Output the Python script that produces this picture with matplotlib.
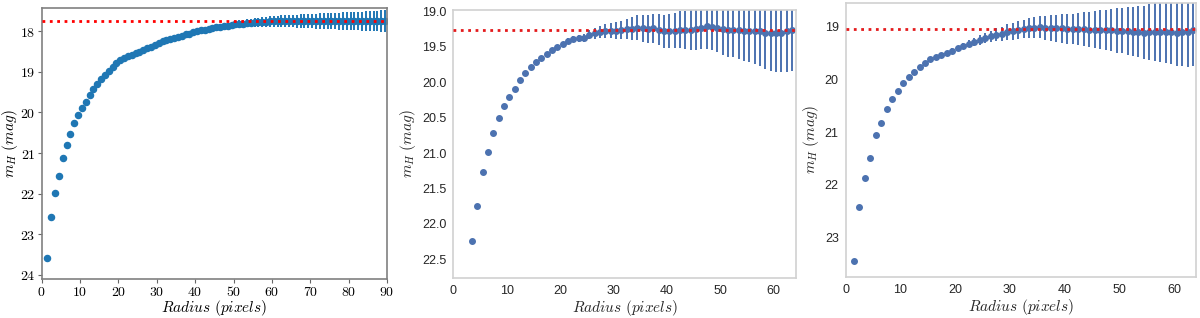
import numpy as np
import matplotlib
matplotlib.use("Agg")
from matplotlib import pyplot as plt
from matplotlib.ticker import FuncFormatter

plt.rcParams['mathtext.fontset'] = 'cm'

# panel 1 (r = 1.5 ... 89.5)
r1 = np.arange(1.5, 90, 1.0)
m1 = [23.59, 22.58, 21.98, 21.56, 21.12, 20.80, 20.52, 20.25, 20.07, 19.89,
      19.73, 19.57, 19.41, 19.29, 19.18, 19.07, 18.97, 18.87, 18.77, 18.71,
      18.66, 18.62, 18.58, 18.54, 18.50, 18.46, 18.42, 18.38, 18.34, 18.29,
      18.25, 18.22, 18.19, 18.16, 18.13, 18.11, 18.08, 18.06, 18.03, 18.00,
      17.98, 17.96, 17.94, 17.92, 17.90, 17.89, 17.87, 17.86, 17.84, 17.83,
      17.82, 17.81, 17.80, 17.79, 17.78, 17.78, 17.77, 17.77, 17.76, 17.76,
      17.76, 17.75, 17.75, 17.75, 17.75, 17.75, 17.75, 17.75, 17.75, 17.75,
      17.75, 17.75, 17.75, 17.75, 17.75, 17.75, 17.75, 17.75, 17.75, 17.75,
      17.75, 17.75, 17.75, 17.75, 17.75, 17.75, 17.75, 17.75, 17.75]
e1 = [0.0, 0.0, 0.0, 0.0, 0.0, 0.0, 0.0, 0.0, 0.0, 0.0,
      0.002, 0.002, 0.003, 0.003, 0.003, 0.004, 0.004, 0.005, 0.005, 0.006,
      0.006, 0.007, 0.008, 0.009, 0.010, 0.011, 0.012, 0.014, 0.016, 0.018,
      0.020, 0.022, 0.024, 0.026, 0.028, 0.030, 0.032, 0.034, 0.036, 0.040,
      0.043, 0.046, 0.050, 0.054, 0.058, 0.062, 0.066, 0.070, 0.075, 0.080,
      0.085, 0.090, 0.095, 0.100, 0.105, 0.110, 0.115, 0.120, 0.125, 0.130,
      0.135, 0.140, 0.145, 0.150, 0.155, 0.160, 0.165, 0.170, 0.175, 0.180,
      0.184, 0.188, 0.192, 0.196, 0.200, 0.204, 0.208, 0.212, 0.216, 0.220,
      0.225, 0.230, 0.235, 0.240, 0.245, 0.250, 0.255, 0.262, 0.270]
ref1 = 17.745

# panel 2 (r = 3.5 ... 63.5)
r2 = np.arange(3.5, 64, 1.0)
m2 = [22.24, 21.745, 21.27, 20.99, 20.72, 20.50, 20.33, 20.21, 20.10, 19.97,
      19.87, 19.79, 19.72, 19.66, 19.60, 19.55, 19.50, 19.46, 19.42, 19.39,
      19.38, 19.37, 19.33, 19.31, 19.29, 19.28, 19.27, 19.27, 19.26, 19.25,
      19.245, 19.23, 19.24, 19.25, 19.24, 19.26, 19.28, 19.28, 19.27, 19.26,
      19.26, 19.26, 19.25, 19.23, 19.21, 19.22, 19.23, 19.25, 19.26, 19.26,
      19.26, 19.27, 19.27, 19.27, 19.28, 19.30, 19.31, 19.31, 19.30, 19.28,
      19.26]
e2 = [0.005, 0.005, 0.005, 0.005, 0.005, 0.005, 0.005, 0.006, 0.007, 0.008,
      0.009, 0.01, 0.01, 0.015, 0.02, 0.02, 0.03, 0.035, 0.04, 0.045,
      0.05, 0.055, 0.065, 0.075, 0.09, 0.10, 0.11, 0.12, 0.13, 0.14,
      0.16, 0.18, 0.19, 0.20, 0.21, 0.22, 0.23, 0.24, 0.25, 0.26,
      0.27, 0.28, 0.29, 0.30, 0.32, 0.33, 0.34, 0.36, 0.38, 0.39,
      0.41, 0.43, 0.45, 0.47, 0.49, 0.51, 0.53, 0.55, 0.56, 0.57,
      0.58]
ref2 = 19.26

# panel 3 (r = 1.5 ... 63.5)
r3 = np.arange(1.5, 64, 1.0)
m3 = [23.45, 22.42, 21.87, 21.49, 21.06, 20.82, 20.57, 20.37, 20.21, 20.06,
      19.96, 19.85, 19.76, 19.68, 19.62, 19.57, 19.53, 19.49, 19.45, 19.41,
      19.36, 19.32, 19.29, 19.25, 19.21, 19.18, 19.15, 19.13, 19.10, 19.08,
      19.06, 19.04, 19.03, 19.02, 19.01, 19.02, 19.02, 19.03, 19.03, 19.04,
      19.04, 19.04, 19.04, 19.05, 19.05, 19.05, 19.06, 19.06, 19.07, 19.07,
      19.08, 19.09, 19.09, 19.11, 19.10, 19.10, 19.09, 19.09, 19.10, 19.11,
      19.10, 19.09, 19.06]
e3 = [0.005, 0.005, 0.005, 0.005, 0.005, 0.005, 0.005, 0.005, 0.005, 0.005,
      0.01, 0.01, 0.015, 0.02, 0.025, 0.03, 0.035, 0.04, 0.045, 0.05,
      0.06, 0.07, 0.08, 0.09, 0.10, 0.11, 0.12, 0.13, 0.15, 0.16,
      0.17, 0.18, 0.19, 0.20, 0.21, 0.22, 0.24, 0.25, 0.27, 0.28,
      0.29, 0.31, 0.32, 0.34, 0.35, 0.37, 0.38, 0.40, 0.42, 0.43,
      0.45, 0.47, 0.49, 0.51, 0.53, 0.55, 0.57, 0.59, 0.61, 0.63,
      0.65, 0.67, 0.69]
ref3 = 19.04

xlabel = r'$Radius\ (pixels)$'
ylabel = r'$m_H\ (mag)$'

fig = plt.figure(figsize=(12, 3.18), dpi=100)

# ---- panel 1: classic matplotlib look, serif ticks
ax1 = fig.add_axes([0.0347, 0.1226, 0.2878, 0.852])
ax1.errorbar(r1, m1, yerr=e1, fmt='o', color='#1f77b4', ms=4.4, lw=1.4, zorder=2)
ax1.axhline(ref1, color='red', ls=':', lw=2, zorder=3)
ax1.set_xlim(0, 90)
ax1.set_ylim(24.1, 17.43)
ax1.set_xticks(np.arange(0, 91, 10))
ax1.set_yticks([18, 19, 20, 21, 22, 23, 24])
fmt = FuncFormatter(lambda v, p: '$%g$' % v)
ax1.xaxis.set_major_formatter(fmt)
ax1.yaxis.set_major_formatter(fmt)
ax1.tick_params(labelsize=10, length=3, width=0.8, color='0.4', pad=1.5)
for s in ax1.spines.values():
    s.set_color('0.5')
    s.set_linewidth(1.2)
ax1.set_xlabel(xlabel, fontsize=11, labelpad=-1)
ax1.set_ylabel(ylabel, fontsize=11, labelpad=0)

# ---- panels 2 and 3: seaborn-ish white style
for pos, r, m, e, ref, xl, yl, yt in [
        ([0.3778, 0.1267, 0.2856, 0.8418], r2, m2, e2, ref2, 64.25, (22.76, 18.98),
         [19.0, 19.5, 20.0, 20.5, 21.0, 21.5, 22.0, 22.5]),
        ([0.7047, 0.1299, 0.2919, 0.8616], r3, m3, e3, ref3, 64.0, (23.75, 18.54),
         [19, 20, 21, 22, 23])]:
    ax = fig.add_axes(pos)
    ax.errorbar(r, m, yerr=e, fmt='o', color='#4c72b0', ms=4, lw=1.4, zorder=2)
    ax.axhline(ref, color='#e41a1c', ls=':', lw=2, zorder=3)
    ax.set_xlim(0, xl)
    ax.set_ylim(*yl)
    ax.set_xticks(np.arange(0, 61, 10))
    ax.set_yticks(yt)
    if pos[0] < 0.5:
        ax.set_yticklabels(['%.1f' % v for v in yt])
    ax.tick_params(length=0, labelsize=9, labelcolor='0.15', pad=5)
    for lab in ax.get_xticklabels() + ax.get_yticklabels():
        lab.set_family('Liberation Sans')
    for s in ax.spines.values():
        s.set_color('0.82')
        s.set_linewidth(1.2)
    ax.set_xlabel(xlabel, fontsize=11, color='0.15', labelpad=1)
    ax.set_ylabel(ylabel, fontsize=11, color='0.15', labelpad=3)

fig.savefig('out.png', dpi=100)
